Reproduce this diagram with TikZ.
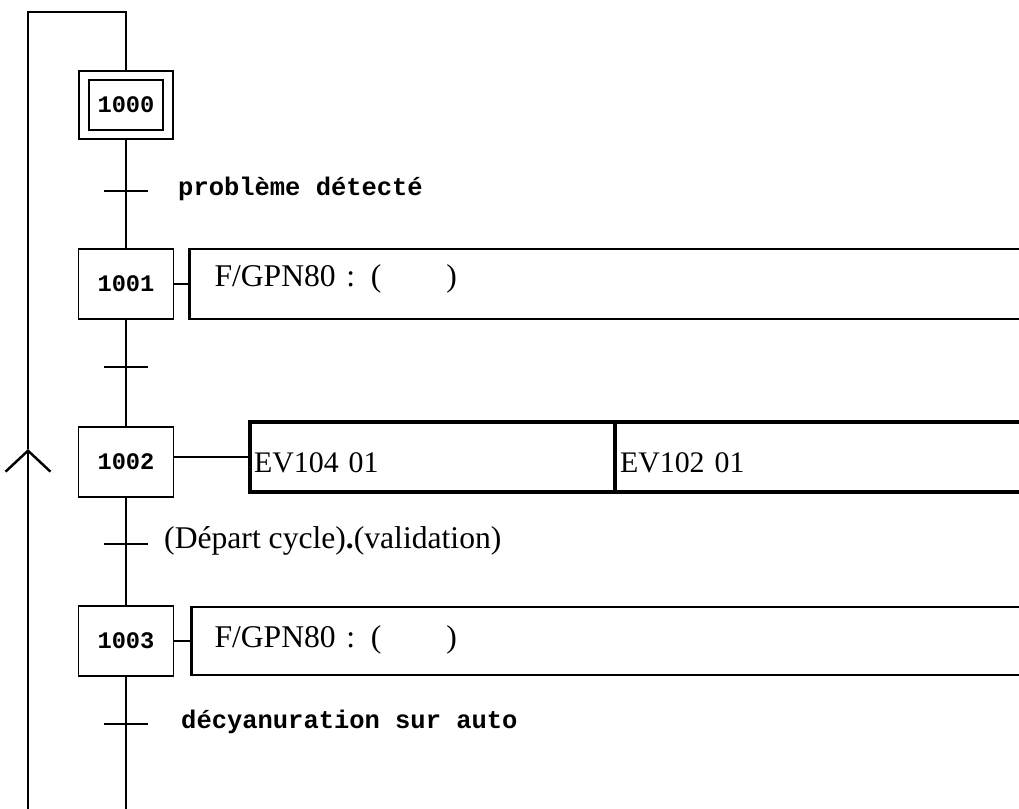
\documentclass[tikz,border=0pt]{standalone}
\usepackage{fontspec}
\setmainfont{Liberation Serif}
\newfontfamily\grafcetmono{Liberation Mono}
\usetikzlibrary{arrows.meta,positioning,calc,fit}

\begin{document}
\begin{tikzpicture}[x=0.02cm,y=-0.02cm,line width=1.4pt,
    >={Straight Barb[length=0.42cm,width=0.9cm]},
    stepbox/.style={draw,line width=1.1pt,minimum width=1.9cm,minimum height=1.4cm,inner sep=0pt,
      font=\grafcetmono\bfseries\fontsize{13.5}{14}\selectfont},
    actbox/.style={draw,line width=1.2pt,inner ysep=0pt,align=left,font=\fontsize{18}{20}\selectfont},
    recep/.style={line width=1.4pt},
    cond/.style={inner sep=0pt,font=\grafcetmono\bfseries\fontsize{14.5}{15}\selectfont}]
  \clip (0,0) rectangle (1019,809);
  % loop and spine
  \coordinate (top) at (126,12);
  \coordinate (loopl) at (28,12);
  \coordinate (retour) at (28,449);
  \coordinate (basl) at (28,809);
  \coordinate (bas) at (126,809);
  \coordinate (t1) at (126,191);
  \coordinate (t2) at (126,367);
  \coordinate (t3) at (126,544);
  \coordinate (t4) at (126,724);
  % steps
  \node[stepbox,minimum width=1.48cm,minimum height=1.0cm] (s1000in) at (126,105) {1000};
  \node[draw,line width=1.1pt,fit=(s1000in),inner xsep=0.19cm,inner ysep=0.17cm] (s1000) {};
  \node[stepbox] (s1001) at (126,284) {1001};
  \node[stepbox] (s1002) at (126,462) {1002};
  \node[stepbox] (s1003) at (126,641) {1003};
  % actions
  \node[actbox,right=0.28cm of s1001,inner xsep=0.5cm,text width=15.84cm,
    text height=0.74cm,text depth=0.66cm] (a1001) {F/GPN80 : (\hspace{1.3cm})};
  \node[actbox,line width=1.9pt,right=1.48cm of s1002,yshift=0.1cm,inner xsep=0.08cm,text width=7.14cm,
    text height=1.0cm,text depth=0.4cm,font=\fontsize{17}{20}\selectfont] (a1002a) {EV104 01};
  \node[actbox,line width=1.9pt,right=-1.9pt of a1002a,inner xsep=0.1cm,text width=8.14cm,
    text height=1.0cm,text depth=0.4cm,font=\fontsize{17}{20}\selectfont] (a1002b) {EV102 01};
  \node[actbox,right=0.32cm of s1003,inner xsep=0.46cm,text width=15.88cm,
    text height=0.8cm,text depth=0.56cm] (a1003) {F/GPN80 : (\hspace{1.3cm})};
  % links
  \draw (s1000.north) -- (top) -- (loopl) -- (retour);
  \draw[->] (basl) -- (retour);
  \draw (s1000.south) -- (t1) -- (s1001.north);
  \draw (s1001.south) -- (t2) -- (s1002.north);
  \draw (s1002.south) -- (t3) -- (s1003.north);
  \draw (s1003.south) -- (t4) -- (bas);
  \draw (s1001) -- (a1001);
  \draw (s1002.east |- a1002a.west) -- (a1002a.west);
  \draw (s1003) -- (a1003);
  % transitions
  \foreach \t in {t1,t2,t3,t4}
    \draw[recep] ($(\t)+(-22,0)$) -- ($(\t)+(22,0)$);
  \node[cond,right=1.02cm of t1,anchor=mid west] (c1) {problème détecté};
  \node[inner sep=0pt,right=0.74cm of t3,anchor=mid west,font=\fontsize{18}{20}\selectfont] (c3)
    {(Départ cycle)\textbf{.}(validation)};
  \node[cond,right=1.08cm of t4,anchor=mid west] (c4) {décyanuration sur auto};
\end{tikzpicture}
\end{document}
